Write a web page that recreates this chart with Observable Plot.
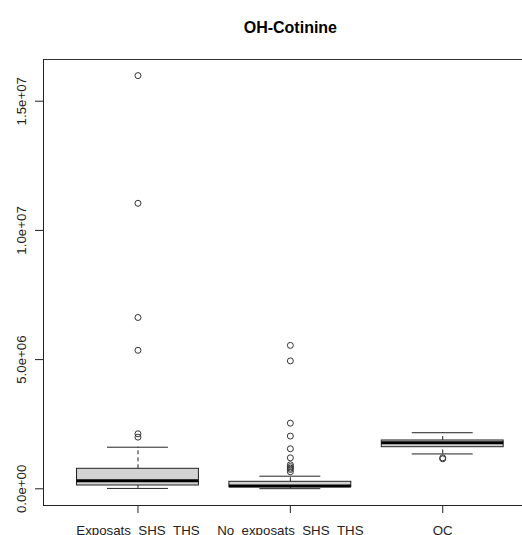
<!DOCTYPE html>
<html>
<head>
<meta charset="utf-8">
<script src="https://cdn.jsdelivr.net/npm/d3@7"></script>
<script src="https://cdn.jsdelivr.net/npm/@observablehq/plot@0.6"></script>
<style>
  html, body { margin: 0; padding: 0; background: #fff; overflow: hidden; }
</style>
</head>
<body>
<div id="chart"></div>
<script>
// ---- data ----
const title = "OH-Cotinine";
const groups = ["Exposats_SHS_THS", "No_exposats_SHS_THS", "QC"];
const groupPos = [1, 2, 3];
const whiskerLow = [15000, 5000, 1350000];
const q1 = [128000, 62000, 1610000];
const median = [315000, 108000, 1780000];
const q3 = [774000, 271000, 1870000];
const whiskerHigh = [1610000, 488000, 2170000];
const outliersExposats = [2130000, 2000000, 5360000, 6630000, 11050000, 15990000];
const outliersNoExposats = [660000, 750000, 800000, 860000, 930000, 1200000, 1550000, 2040000, 2540000, 4950000, 5550000];
const outliersQC = [1200000, 1160000];
const yTicks = [0, 5e6, 1e7, 1.5e7];
const yTickLabels = ["0.0e+00", "5.0e+06", "1.0e+07", "1.5e+07"];

// ---- tables built from the arrays ----
const stats = groups.map((g, i) => ({
  name: g, pos: groupPos[i], lo: whiskerLow[i], q1: q1[i], med: median[i], q3: q3[i], hi: whiskerHigh[i]
}));
const outlierLists = [outliersExposats, outliersNoExposats, outliersQC];
const outliers = outlierLists.flatMap((vals, i) => vals.map(v => ({pos: groupPos[i], value: v})));

const xDomain = [0.38, 3.5235];
const yDomain = [-646000, 16614000];
const boxHalf = 0.4, stapleHalf = 0.2;

const chart = Plot.plot({
  width: 522,
  height: 535,
  marginLeft: 43,
  marginRight: 0,
  marginTop: 59,
  marginBottom: 30,
  style: {fontFamily: "'Liberation Sans', Arial, sans-serif", fontSize: "13.3px", color: "#222", background: "#fff"},
  x: {type: "linear", domain: xDomain},
  y: {type: "linear", domain: yDomain},
  marks: [
    // frame (top, left, bottom)
    Plot.ruleY([yDomain[1]], {stroke: "#333", strokeWidth: 1}),
    Plot.ruleY([yDomain[0]], {stroke: "#222", strokeWidth: 1}),
    Plot.ruleX([xDomain[0]], {stroke: "#222", strokeWidth: 1}),
    // whiskers
    Plot.ruleX(stats, {x: "pos", y1: "q3", y2: "hi", stroke: "#222", strokeDasharray: "4,3"}),
    Plot.ruleX(stats, {x: "pos", y1: "lo", y2: "q1", stroke: "#222", strokeDasharray: "4,3"}),
    Plot.ruleY(stats, {y: "hi", x1: d => d.pos - stapleHalf, x2: d => d.pos + stapleHalf, stroke: "#222"}),
    Plot.ruleY(stats, {y: "lo", x1: d => d.pos - stapleHalf, x2: d => d.pos + stapleHalf, stroke: "#222"}),
    // boxes
    Plot.rect(stats, {x1: d => d.pos - boxHalf, x2: d => d.pos + boxHalf, y1: "q1", y2: "q3", fill: "#d3d3d3", stroke: "#222", strokeWidth: 1}),
    Plot.ruleY(stats, {y: "med", x1: d => d.pos - boxHalf, x2: d => d.pos + boxHalf, stroke: "#000", strokeWidth: 3}),
    // outliers
    Plot.dot(outliers, {x: "pos", y: "value", r: 3, stroke: "#333", fill: "none", strokeWidth: 1}),
    // axes
    Plot.axisX({ticks: groupPos, tickSize: 8, tickPadding: 12, fontSize: 13.3, label: null,
      tickFormat: d => groups[groupPos.indexOf(d)], stroke: "#222"}),
    Plot.axisY({ticks: yTicks, tickSize: 8, tickPadding: 10, tickRotate: -90, fontSize: 13.3, label: null,
      tickFormat: d => yTickLabels[yTicks.indexOf(d)], stroke: "#222"}),
    // title
    Plot.text([title], {x: 2, y: yDomain[1], dy: -27, lineAnchor: "bottom", fontSize: 16, fontWeight: "bold", fill: "#000"})
  ]
});
document.getElementById("chart").appendChild(chart);
</script>
</body>
</html>
